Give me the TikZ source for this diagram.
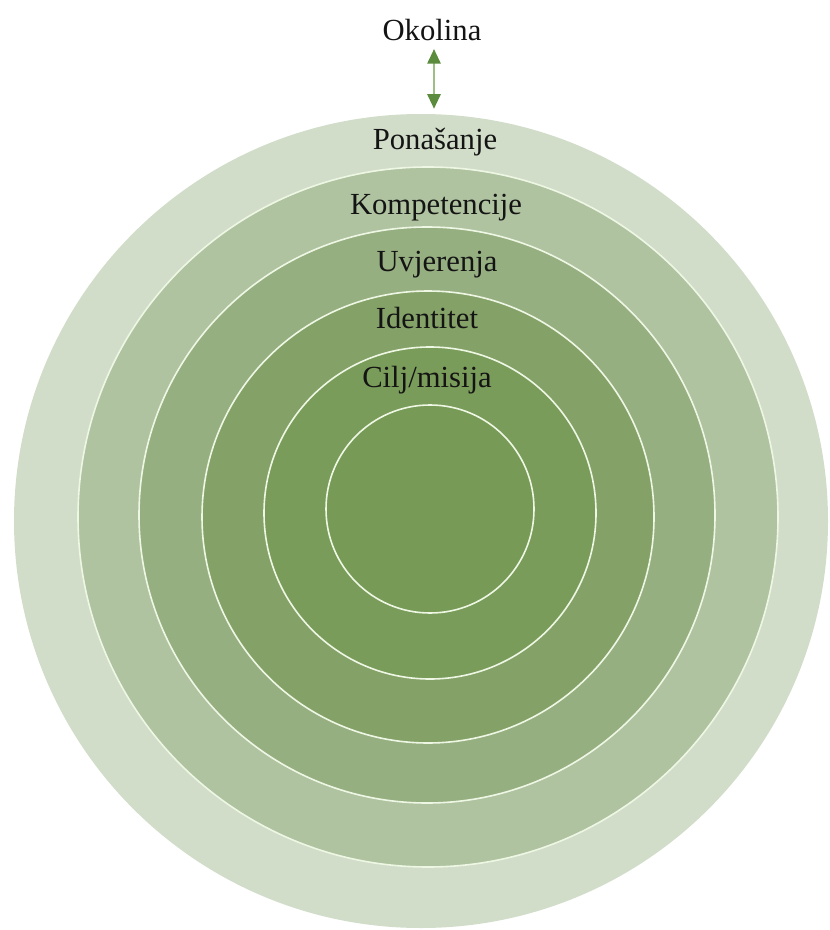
\documentclass[tikz,border=0pt]{standalone}
\usepackage{fontspec}
\setmainfont{Liberation Serif}
\usetikzlibrary{arrows.meta}
\definecolor{ringA}{HTML}{D1DDC9}
\definecolor{ringB}{HTML}{AFC3A0}
\definecolor{ringC}{HTML}{96AF81}
\definecolor{ringD}{HTML}{84A267}
\definecolor{ringE}{HTML}{7A9C5A}
\definecolor{ringF}{HTML}{779B56}
\definecolor{sepline}{HTML}{EEF6E4}
\definecolor{tipgreen}{HTML}{5B8B3C}
\definecolor{shaftgreen}{HTML}{9CC083}
\definecolor{txt}{HTML}{141414}
\begin{document}
\begin{tikzpicture}[x=0.75pt,y=-0.75pt,
  ring/.style={circle, inner sep=0pt, draw=sepline, line width=1.2pt},
  lbl/.style={inner sep=0pt, text=txt, font=\fontsize{23}{28}\selectfont}]
\useasboundingbox (0,0) rectangle (830,930);
\node[circle, inner sep=0pt, fill=ringA, minimum size=814*0.75pt] (c6) at (421,521) {};
\node[ring, fill=ringB, minimum size=700*0.75pt] (c5) at (428,517) {};
\node[ring, fill=ringC, minimum size=576*0.75pt] (c4) at (427,515) {};
\node[ring, fill=ringD, minimum size=452*0.75pt] (c3) at (428,517) {};
\node[ring, fill=ringE, minimum size=332*0.75pt] (c2) at (430,513) {};
\node[ring, fill=ringF, minimum size=208*0.75pt] (c1) at (430,509) {};
\node[lbl] (okolina) at (432,30) {Okolina};
\node[lbl] (ponasanje) at (435,142) {Ponašanje};
\node[lbl] (kompetencije) at (436,208) {Kompetencije};
\node[lbl] (uvjerenja) at (437,265) {Uvjerenja};
\node[lbl] (identitet) at (427,318) {Identitet};
\node[lbl] (cilj) at (427,380) {Cilj/misija};
\draw[shaftgreen, line width=1.5pt,
  {Triangle[width=10pt,length=11pt,color=tipgreen]}-{Triangle[width=10pt,length=11pt,color=tipgreen]},
  shorten <=8*0.75pt, shorten >=5*0.75pt]
  (okolina.south -| 434,0) -- (c6.north -| 434,0);
\end{tikzpicture}
\end{document}
